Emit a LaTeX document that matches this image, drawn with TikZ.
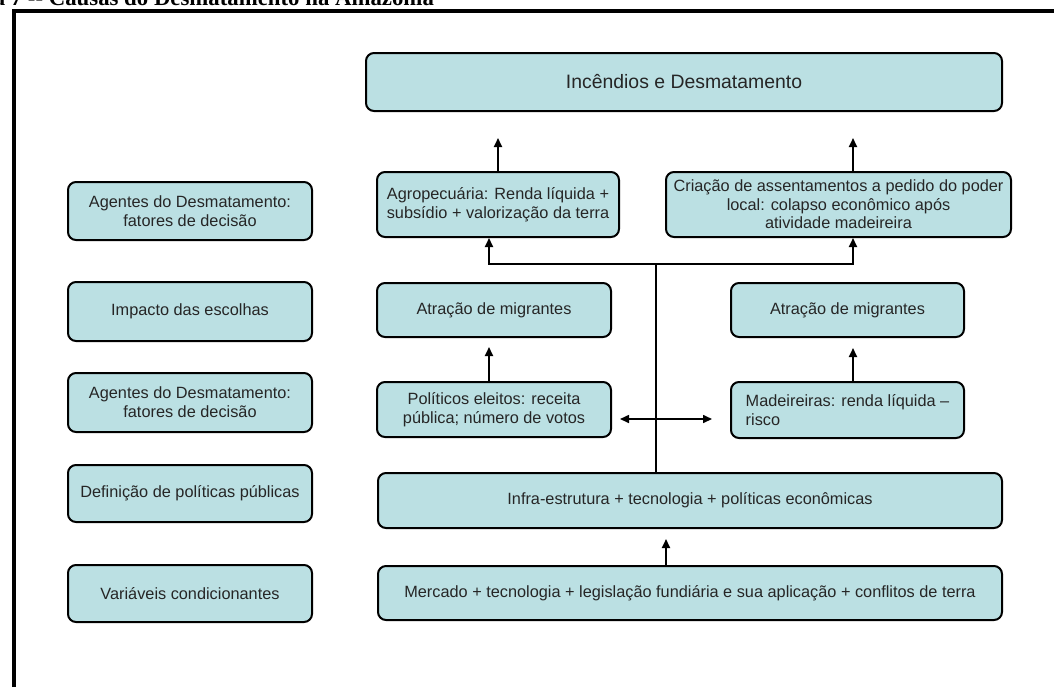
\documentclass[tikz,border=0pt]{standalone}
\usepackage{fontspec}
\setmainfont{Liberation Sans}
\newfontfamily\serifa{Liberation Serif}
\usetikzlibrary{calc,arrows.meta}
\definecolor{caixaazul}{RGB}{187,224,227}

\begin{document}
\begin{tikzpicture}[x=0.5pt,y=-0.5pt,
    caixa/.style={draw=black,line width=1pt,rounded corners=4pt,fill=caixaazul,align=center,inner sep=0pt,text=black!85,font=\fontsize{8.15}{9.6}\selectfont},
    seta/.style={line width=0.9pt,-{Triangle[length=4.5pt,width=4pt]}},
    seta2/.style={line width=0.8pt,{Triangle[length=4.5pt,width=4pt]}-{Triangle[length=4.5pt,width=4pt]}}]
    \useasboundingbox (0,0) rectangle (1054,687);

    \node[anchor=base east,font=\serifa\bfseries\fontsize{11.4}{13}\selectfont] (titulo) at (441,5) {Figura 7 -- Causas do Desmatamento na Amazônia};
    \draw[line width=2pt] (14,687) -- (14,11) -- (1054,11);

    \node[caixa,minimum width=318pt,minimum height=29pt,font=\fontsize{9.7}{11}\selectfont] (topo) at (684,82) {Incêndios e Desmatamento};

    \node[caixa,minimum width=122pt,minimum height=29pt] (agentesA) at (190,211) {Agentes do Desmatamento:\\fatores de decisão};
    \node[caixa,minimum width=122pt,minimum height=29.5pt] (impacto) at (190,311.5) {Impacto das escolhas};
    \node[caixa,minimum width=122pt,minimum height=29.5pt] (agentesB) at (190,402.5) {Agentes do Desmatamento:\\fatores de decisão};
    \node[caixa,minimum width=122pt,minimum height=28.5pt] (definicao) at (190,493.5) {Definição de políticas públicas};
    \node[caixa,minimum width=122pt,minimum height=28.5pt] (variaveis) at (190,593.5) {Variáveis condicionantes};

    \node[caixa,minimum width=121pt,minimum height=32.5pt] (agro) at (498,204.5) {Agropecuária: Renda líquida +\\subsídio + valorização da terra};
    \node[caixa,minimum width=172.5pt,minimum height=32.5pt,font=\fontsize{8.15}{9.3}\selectfont] (criacao) at (838.5,204.5) {Criação de assentamentos a pedido do poder\\local: colapso econômico após\\atividade madeireira};
    \node[caixa,minimum width=117pt,minimum height=27pt] (atracaoE) at (494,310) {Atração de migrantes};
    \node[caixa,minimum width=116.5pt,minimum height=27pt] (atracaoD) at (847.5,310) {Atração de migrantes};
    \node[caixa,minimum width=117pt,minimum height=27.5pt] (politicos) at (494,409.5) {Políticos eleitos: receita\\pública; número de votos};
    \node[caixa,minimum width=116.5pt,minimum height=28pt,align=left] (madeireiras) at (847.5,410) {Madeireiras: renda líquida --\\risco};
    \node[caixa,minimum width=312pt,minimum height=27.5pt] (infra) at (690,500.5) {Infra-estrutura + tecnologia + políticas econômicas};
    \node[caixa,minimum width=312pt,minimum height=27pt] (mercado) at (690,593) {Mercado + tecnologia + legislação fundiária e sua aplicação + conflitos de terra};

    \coordinate (ramoE) at (489,264);
    \coordinate (ramoD) at (853,264);
    \coordinate (centro) at (656,264);

    \draw[line width=0.7pt] (centro |- infra.north) -- (centro);
    \draw[seta] (centro) -| (ramoE |- agro.south);
    \draw[seta] (centro) -| (ramoD |- criacao.south);
    \draw[seta,shorten >=13pt] (agro.north) -- (agro.north |- topo.south);
    \draw[seta,shorten >=13pt] (ramoD |- criacao.north) -- (ramoD |- topo.south);
    \draw[seta,shorten >=4.5pt] (ramoE |- politicos.north) -- (ramoE |- atracaoE.south);
    \draw[seta,shorten >=5pt] (ramoD |- madeireiras.north) -- (ramoD |- atracaoD.south);
    \draw[seta2,shorten <=4pt,shorten >=9pt] ($(politicos.east)+(0,9.5)$) -- ($(madeireiras.west)+(0,9)$);
    \draw[seta,shorten >=5pt] ($(mercado.north)+(-24,0)$) -- ($(infra.south)+(-24,0)$);

\end{tikzpicture}
\end{document}
